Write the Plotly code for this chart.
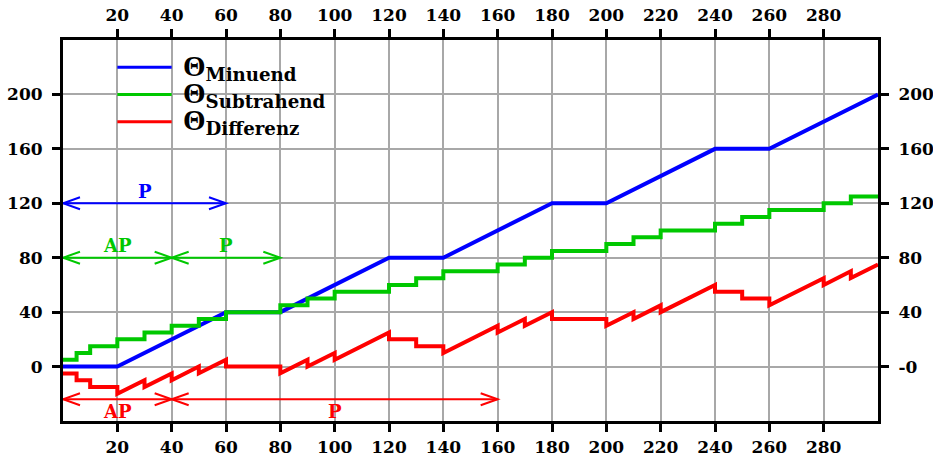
import plotly.graph_objects as go

# ---------------- data ----------------
minuend_x = [0, 20, 60, 80, 120, 140, 180, 200, 240, 260, 300]
minuend_y = [0, 0, 40, 40, 80, 80, 120, 120, 160, 160, 200]

subtrahend_x = [0, 5, 10, 20, 30, 40, 50, 60, 80, 90, 100, 120, 130, 140, 160,
                170, 180, 200, 210, 220, 240, 250, 260, 280, 290, 300]
subtrahend_y = [5, 10, 15, 20, 25, 30, 35, 40, 45, 50, 55, 60, 65, 70, 75,
                80, 85, 90, 95, 100, 105, 110, 115, 120, 125, 125]

diff_x = [0, 5, 5, 10, 10, 20, 20, 30, 30, 40, 40, 50, 50, 60, 60, 80, 80, 90, 90,
          100, 100, 120, 120, 130, 130, 140, 140, 160, 160, 170, 170, 180, 180,
          200, 200, 210, 210, 220, 220, 240, 240, 250, 250, 260, 260, 280, 280,
          290, 290, 300]
diff_y = [-5, -5, -10, -10, -15, -15, -20, -10, -15, -5, -10, 0, -5, 5, 0, 0, -5, 5, 0,
          10, 5, 25, 20, 20, 15, 15, 10, 30, 25, 35, 30, 40, 35,
          35, 30, 40, 35, 45, 40, 60, 55, 55, 50, 50, 45, 65, 60,
          70, 65, 75]

series_names = ["Minuend", "Subtrahend", "Differenz"]
series_colors = ["#0000ff", "#00c800", "#ff0000"]

x_ticks = [20, 40, 60, 80, 100, 120, 140, 160, 180, 200, 220, 240, 260, 280]
y_ticks = [0, 40, 80, 120, 160, 200]
y_ticktext_left = ["0", "40", "80", "120", "160", "200"]
y_ticktext_right = ["-0", "40", "80", "120", "160", "200"]

# range arrows (phase markers)
arrow_x0 = [0, 0, 40, 0, 40]
arrow_x1 = [60, 40, 80, 40, 160]
arrow_y = [120, 80, 80, -24, -24]
arrow_labels = ["P", "AP", "P", "AP", "P"]
arrow_colors = ["#0000ff", "#00c800", "#00c800", "#ff0000", "#ff0000"]
arrow_label_above = [True, True, True, False, False]

# legend placement (data coords)
legend_x0, legend_x1 = 20, 40
legend_y = [220, 200, 180]

FONT = "DejaVu Serif"

fig = go.Figure()
fig.add_trace(go.Scatter(x=minuend_x, y=minuend_y, mode="lines",
                         line=dict(color=series_colors[0], width=4), showlegend=False))
fig.add_trace(go.Scatter(x=subtrahend_x, y=subtrahend_y, mode="lines", line_shape="hv",
                         line=dict(color=series_colors[1], width=4), showlegend=False))
fig.add_trace(go.Scatter(x=diff_x, y=diff_y, mode="lines",
                         line=dict(color=series_colors[2], width=4), showlegend=False))
# invisible carrier so the mirrored top/right axes get drawn
fig.add_trace(go.Scatter(x=minuend_x, y=minuend_y, mode="lines", xaxis="x2", yaxis="y2",
                         line=dict(color="rgba(0,0,0,0)", width=0), showlegend=False,
                         hoverinfo="skip"))

shapes = []
annotations = []
for x0, x1, y, lab, col, above in zip(arrow_x0, arrow_x1, arrow_y, arrow_labels,
                                      arrow_colors, arrow_label_above):
    shapes.append(dict(type="line", x0=x0, x1=x1, y0=y, y1=y, xref="x", yref="y",
                       line=dict(color=col, width=2)))
    shapes.append(dict(type="path", xref="x", yref="y", xsizemode="pixel", ysizemode="pixel",
                       xanchor=x1, yanchor=y, path="M -17,6 L 0,0 L -17,-6",
                       line=dict(color=col, width=2)))
    shapes.append(dict(type="path", xref="x", yref="y", xsizemode="pixel", ysizemode="pixel",
                       xanchor=x0, yanchor=y, path="M 17,6 L 0,0 L 17,-6",
                       line=dict(color=col, width=2)))
    annotations.append(dict(x=(x0 + x1) / 2, y=y, xref="x", yref="y", text=lab,
                            showarrow=False, yshift=12 if above else -12,
                            yanchor="middle", xanchor="center",
                            font=dict(family=FONT, size=18, color=col, weight="bold")))

for name, col, ly in zip(series_names, series_colors, legend_y):
    shapes.append(dict(type="line", x0=legend_x0, x1=legend_x1, y0=ly, y1=ly,
                       xref="x", yref="y", line=dict(color=col, width=3)))
    annotations.append(dict(
        x=legend_x1 + 3.5, y=ly, xref="x", yref="y",
        text=("<span style=\"font-family:'Liberation Serif';font-weight:bold;"
              "font-size:29px\">Θ</span><sub><b>" + name + "</b></sub>"),
        showarrow=False, xanchor="left", yanchor="middle", yshift=0,
        font=dict(family=FONT, size=26, color="black")))

axis_common = dict(
    showline=True, linewidth=3, linecolor="black",
    ticks="outside", ticklen=8, tickwidth=3, tickcolor="black",
    tickfont=dict(family=FONT, size=17, color="black", weight="bold"),
    zeroline=False, automargin=False,
)

fig.update_layout(
    width=933, height=457,
    margin=dict(l=63, r=55, t=40, b=36),
    paper_bgcolor="white", plot_bgcolor="white",
    shapes=shapes, annotations=annotations,
    xaxis=dict(range=[0, 300], tickvals=x_ticks, showgrid=True,
               gridcolor="#a8a8a8", gridwidth=1.5, mirror=True,
               ticklabelstandoff=1, **axis_common),
    xaxis2=dict(range=[0, 300], tickvals=x_ticks, overlaying="x", side="top",
                showgrid=False, ticklabelstandoff=1, **axis_common),
    yaxis=dict(range=[-40, 240], tickvals=y_ticks, ticktext=y_ticktext_left,
               showgrid=True, gridcolor="#a8a8a8", gridwidth=1.5, mirror=True,
               ticklabelstandoff=6, **axis_common),
    yaxis2=dict(range=[-40, 240], tickvals=y_ticks, ticktext=y_ticktext_right,
                overlaying="y", side="right", showgrid=False,
                ticklabelstandoff=6, **axis_common),
)

fig.write_html("out.html")
